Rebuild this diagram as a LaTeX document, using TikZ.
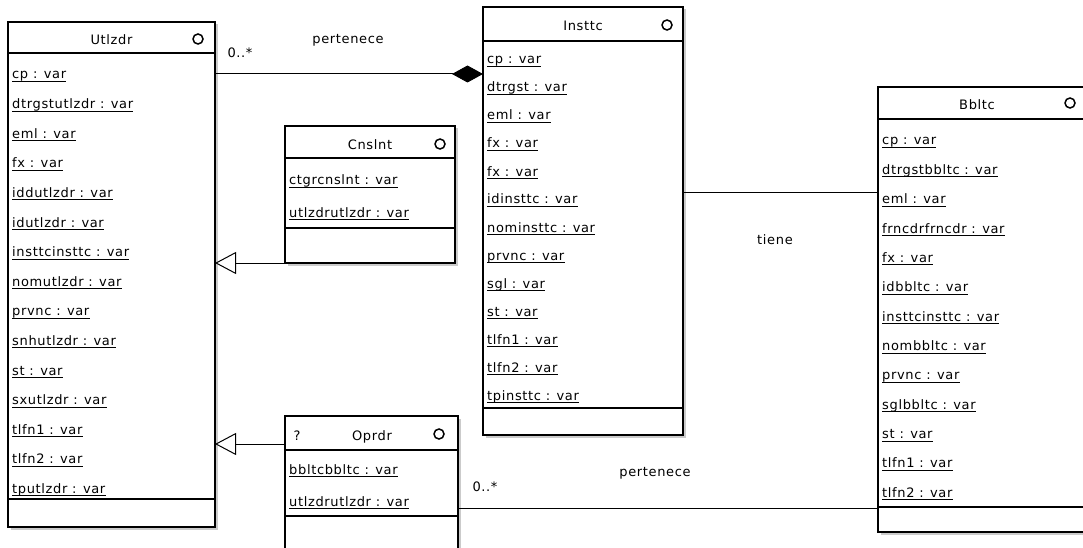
\documentclass[tikz,border=0pt]{standalone}
\usepackage{fontspec}
\setmainfont{DejaVu Sans}[LetterSpace=5]
\usetikzlibrary{arrows.meta,shadows}

\tikzset{
  classbox/.style={draw=black, line width=1.3pt, fill=white, anchor=north west,
    outer sep=0pt, inner sep=0pt,
    drop shadow={shadow xshift=2.5pt, shadow yshift=-2.5pt, fill=black!40}},
  sepline/.style={line width=1.3pt},
  txt/.style={inner sep=0pt, font=\fontsize{13}{15}\selectfont},
  attr/.style={txt, anchor=base west},
  classname/.style={txt, anchor=base},
  uline/.style={line width=0.9pt},
  icon/.style={circle, draw, line width=1.5pt, minimum size=10pt, inner sep=0pt},
  assoc/.style={line width=1pt},
  lbl/.style={txt},
}

\begin{document}
\begin{tikzpicture}[x=1pt, y=-1pt]
\path[use as bounding box, fill=white] (0,0) rectangle (1083,548);
\clip (0,0) rectangle (1083,548);

% ---------- class Utlzdr ----------
\node[classbox, minimum width=207pt, minimum height=505pt] (utl) at (8,22) {};
\draw[sepline] ([yshift=-31pt]utl.north west) -- ([yshift=-31pt]utl.north east);
\draw[sepline] ([yshift=-477pt]utl.north west) -- ([yshift=-477pt]utl.north east);
\node[classname] (utlname) at (111.5,45) {Utlzdr};
\node[icon] (utlicon) at (198,39) {};
\foreach \t [count=\i] in {cp, dtrgstutlzdr, eml, fx, iddutlzdr, idutlzdr,
    insttcinsttc, nomutlzdr, prvnc, snhutlzdr, st, sxutlzdr, tlfn1, tlfn2, tputlzdr}{
  \node[attr] (ua\i) at (12,{79+29.6*(\i-1)}) {\t\ : var};
  \draw[uline] ([yshift=-2.5pt]ua\i.base west) -- ([yshift=-2.5pt]ua\i.base east);
}

% ---------- class Insttc ----------
\node[classbox, minimum width=200pt, minimum height=428pt] (ins) at (483,7) {};
\draw[sepline] ([yshift=-34pt]ins.north west) -- ([yshift=-34pt]ins.north east);
\draw[sepline] ([yshift=-401pt]ins.north west) -- ([yshift=-401pt]ins.north east);
\node[classname] (insname) at (583,31) {Insttc};
\node[icon] (insicon) at (667,25) {};
\foreach \t [count=\i] in {cp, dtrgst, eml, fx, fx, idinsttc, nominsttc,
    prvnc, sgl, st, tlfn1, tlfn2, tpinsttc}{
  \node[attr] (ia\i) at (487,{64+28*(\i-1)}) {\t\ : var};
  \draw[uline] ([yshift=-2.5pt]ia\i.base west) -- ([yshift=-2.5pt]ia\i.base east);
}

% ---------- class Bbltc ----------
\node[classbox, minimum width=208pt, minimum height=445pt] (bbl) at (878,87) {};
\draw[sepline] ([yshift=-32pt]bbl.north west) -- ([yshift=-32pt]bbl.north east);
\draw[sepline] ([yshift=-420pt]bbl.north west) -- ([yshift=-420pt]bbl.north east);
\node[classname] (bblname) at (977,110) {Bbltc};
\node[icon] (bblicon) at (1070,103) {};
\foreach \t [count=\i] in {cp, dtrgstbbltc, eml, frncdrfrncdr, fx, idbbltc,
    insttcinsttc, nombbltc, prvnc, sglbbltc, st, tlfn1, tlfn2}{
  \node[attr] (ba\i) at (882,{145+29.35*(\i-1)}) {\t\ : var};
  \draw[uline] ([yshift=-2.5pt]ba\i.base west) -- ([yshift=-2.5pt]ba\i.base east);
}

% ---------- class Cnslnt ----------
\node[classbox, minimum width=170pt, minimum height=137pt] (cns) at (285,126) {};
\draw[sepline] ([yshift=-32pt]cns.north west) -- ([yshift=-32pt]cns.north east);
\draw[sepline] ([yshift=-102pt]cns.north west) -- ([yshift=-102pt]cns.north east);
\node[classname] (cnsname) at (370,150) {Cnslnt};
\node[icon] (cnsicon) at (440,144) {};
\node[attr] (ca1) at (289,185) {ctgrcnslnt : var};
\node[attr] (ca2) at (289,217) {utlzdrutlzdr : var};
\foreach \n in {ca1,ca2}{
  \draw[uline] ([yshift=-2.5pt]\n.base west) -- ([yshift=-2.5pt]\n.base east);
}

% ---------- class Oprdr ----------
\node[classbox, minimum width=173pt, minimum height=160pt] (opr) at (285,416) {};
\draw[sepline] ([yshift=-34pt]opr.north west) -- ([yshift=-34pt]opr.north east);
\draw[sepline] ([yshift=-100pt]opr.north west) -- ([yshift=-100pt]opr.north east);
\node[classname] (oprname) at (372,440) {Oprdr};
\node[classname] (oprq) at (297,440) {?};
\node[icon] (opricon) at (439,434) {};
\node[attr] (oa1) at (289,474) {bbltcbbltc : var};
\node[attr] (oa2) at (289,506) {utlzdrutlzdr : var};
\foreach \n in {oa1,oa2}{
  \draw[uline] ([yshift=-2.5pt]\n.base west) -- ([yshift=-2.5pt]\n.base east);
}

% ---------- relations ----------
% Utlzdr 0..* -- composed into Insttc
\coordinate (ui) at ([yshift=-52pt]utl.north east);
\draw[assoc, -{Diamond[length=31pt, width=17pt]}] (ui) -- (ui -| ins.west);
\node[lbl] (uilbl) at (348,40) {pertenece};
\node[lbl] (uimul) at (240,53) {0..*};

% Insttc -- Bbltc
\coordinate (ib) at ([yshift=-185pt]ins.north east);
\draw[assoc] (ib) -- (ib -| bbl.west);
\node[lbl] (iblbl) at (775,240) {tiene};

% Oprdr 0..* -- Bbltc
\coordinate (ob) at ([yshift=-92pt]opr.north east);
\draw[assoc] (ob) -- (ob -| bbl.west);
\node[lbl] (oblbl) at (655,473) {pertenece};
\node[lbl] (obmul) at (485,487) {0..*};

% generalisations towards Utlzdr
\coordinate (cg) at (cns.south west);
\draw[assoc, -{Triangle[open, length=21pt, width=22pt, fill=white]}] (cg) -- (cg -| utl.east);
\coordinate (og) at ([yshift=-28pt]opr.north west);
\draw[assoc, -{Triangle[open, length=21pt, width=22pt, fill=white]}] (og) -- (og -| utl.east);
\end{tikzpicture}
\end{document}
